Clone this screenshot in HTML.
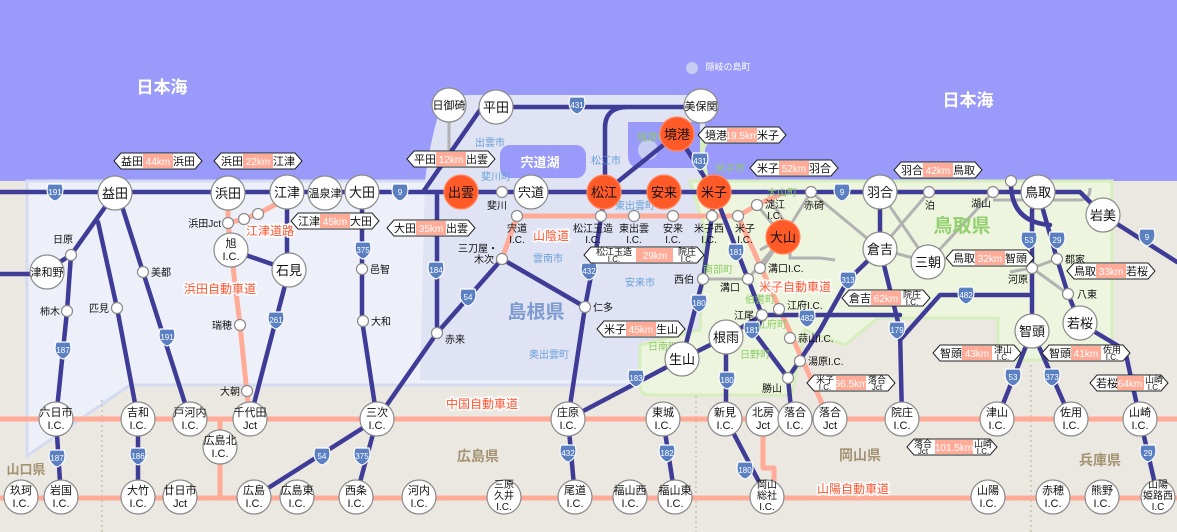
<!DOCTYPE html>
<html><head><meta charset="utf-8"><style>
html,body{margin:0;padding:0;background:#ebe8e2}
svg{display:block;font-family:"Liberation Sans","Noto Sans CJK JP",sans-serif}
.b{fill:none;stroke:#3f3c98;stroke-width:4.5;stroke-linejoin:round;stroke-linecap:round}
.o{fill:none;stroke:#ffab98;stroke-width:5;stroke-linejoin:round}
.g{fill:none;stroke:#b2b2b2;stroke-width:3}
.n{fill:#fff;stroke:#8a8a8a;stroke-width:1.2}
.r{fill:#ff5a28;stroke:#ff8a60;stroke-width:1.2}
.s{fill:#fff;stroke:#8a8a8a;stroke-width:1.2}
.t{font-size:13px;text-anchor:middle;fill:#111}
.u{font-size:11px;text-anchor:middle;fill:#111}
.v{font-size:10px;text-anchor:middle;fill:#111}
.l{font-size:10px;fill:#111}
.lr{font-size:10px;fill:#111;text-anchor:end}
.c{font-size:10px;fill:#6a9fd8;text-anchor:middle}
.cg{font-size:10px;fill:#8ccc66;text-anchor:middle}
.ex{font-size:12px;fill:#ff5530;text-anchor:middle;stroke:#fff;stroke-width:3;paint-order:stroke}
.sg{fill:#fff;stroke:#222;stroke-width:1}
.st{font-size:11px;text-anchor:middle;fill:#111}
.s2{font-size:9px;text-anchor:middle;fill:#111}
.ss{font-size:8px;text-anchor:middle;fill:#111}
.km{font-size:10px;text-anchor:middle;fill:#fff}
.sh{fill:#5b80c2;stroke:#fff;stroke-width:1.2}
.shn{font-size:8px;fill:#fff;text-anchor:middle}
</style></head><body>
<svg width="1177" height="532" viewBox="0 0 1177 532" xmlns="http://www.w3.org/2000/svg">
<defs>
<g id="shd"><path d="M-7,-8 H7 Q9,-2 7,3 Q4,8 0,9 Q-4,8 -7,3 Q-9,-2 -7,-8 Z" class="sh"/></g>
<g id="sgn"><polygon class="sg" points="-44,0 -37,-8 37,-8 44,0 37,8 -37,8"/><rect x="-15" y="-7" width="30" height="14" fill="#ffab98"/></g>
</defs>
<rect x="0" y="0" width="1177" height="532" fill="#ebe8e2"/>
<rect x="0" y="0" width="1177" height="181" fill="#9a9afa"/>
<polygon points="27,181 700,181 700,330 640,340 640,385 130,385 27,456" fill="#edf0f9" stroke="#d5dbf0" stroke-width="3"/>
<path d="M425,181 Q430,140 440,110 Q445,95 470,95 L690,95 Q705,95 705,115 L705,330 L640,340 L640,380 L420,380 Z" fill="#dfe3f3"/>
<path d="M690,181 L1112,181 L1112,360 L998,360 L998,318 L878,318 L845,345 L805,330 L792,395 L650,395 Q640,395 640,385 L640,345 L700,330 L705,230 Z" fill="#eef5de" stroke="#d6edbd" stroke-width="3"/>
<path d="M705,181 L700,150 L710,130" fill="none" stroke="#d6edbd" stroke-width="8"/>
<rect x="500" y="145" width="86" height="33" rx="10" fill="#9a9afa"/>
<path d="M628,122 L700,122 L700,168 L640,168 Q628,168 628,155 Z" fill="#9a9afa"/>
<circle cx="648" cy="150" r="10" fill="#c7ccf3"/>
<text x="540" y="167" font-size="13" font-weight="bold" fill="#fff" text-anchor="middle">宍道湖</text>
<g stroke="#c9c0ae" stroke-width="1.5" stroke-dasharray="2,3">
<line x1="102" y1="400" x2="102" y2="532"/><line x1="696" y1="396" x2="696" y2="532"/><line x1="1031" y1="365" x2="1031" y2="532"/>
</g>
<text x="162" y="93" font-size="17" font-weight="bold" fill="#fff" text-anchor="middle">日本海</text>
<text x="968" y="106" font-size="17" font-weight="bold" fill="#fff" text-anchor="middle">日本海</text>
<circle cx="692" cy="68" r="6" fill="#c7ccf3"/>
<text x="728" y="70" font-size="9" fill="#fff" text-anchor="middle">隠岐の島町</text>
<g class="g">
<path d="M449,106 V150"/>
<path d="M811,192 L880,249 M880,192 L928,262 M929,192 L880,249 M880,249 L928,262 M928,262 L993,192"/>
<path d="M993,200 H1030 M1045,200 H1080 Q1090,200 1090,188"/>
<path d="M1010,272 L1032,268 L1057,259 M1032,268 L1068,294"/>
<path d="M783,237 L757,205 M783,237 L760,250 M783,237 L748,279 M783,237 L811,192 M783,237 L762,268 M703,279 L748,279"/>
<path d="M757,205 L770,200 L790,230 L790,258 L820,258 L835,260"/>
</g>
<g class="o">
<path d="M0,419 H1177 M0,498 H1177"/>
<path d="M220,419 V498"/>
<path d="M763,419 V468 H774 V497"/>
<path d="M228,193 V223 L231,250 L240,325 L247,394 L250,419"/>
<path d="M228,223 L244,219 L258,214 L287,198"/>
<path d="M502,259 L517,216 H738 L757,205 L785,192"/>
<path d="M738,216 L829,419"/>
</g>
<g class="b">
<path d="M0,192 H1080 L1103,215 L1177,262"/>
<path d="M0,274 H47"/>
<path d="M115,193 L71,255 L47,270"/>
<path d="M71,255 L67,311 L56,419 L61,497"/>
<path d="M98,222 L117,308 L138,419 L138,497"/>
<path d="M120,200 L143,272 L190,419"/>
<path d="M289,270 L250,419"/>
<path d="M231,250 L289,270 M287,192 V270"/>
<path d="M362,192 V320 L377,419 L356,497"/>
<path d="M502,259 L437,333 L377,419 L254,497"/>
<path d="M437,192 V333"/>
<path d="M423,192 L480,110"/>
<path d="M496,107 H700 M628,107 Q605,107 605,128 V192"/>
<path d="M605,192 L677,134 L714,192"/>
<path d="M605,192 L596,250 L585,307 L568,419 L575,497 M502,259 L585,307"/>
<path d="M714,192 L712,216 L703,279 L682,359 L568,419"/>
<path d="M714,192 L748,279 L762,315 L756,335 L788,378 L792,419 M762,315 L726,337 L682,359"/>
<path d="M726,337 V419 L767,497"/>
<path d="M880,249 L848,280 L820,330 L788,378"/>
<path d="M762,315 H900 M880,249 L900,330 L902,419 M900,340 L940,295 H1032"/>
<path d="M1038,192 L1032,210 V331 L997,419"/>
<path d="M1038,192 L1057,259 L1068,294 L1080,323 L1125,350 L1140,419 L1158,497"/>
<path d="M1032,331 L1071,419"/>
<path d="M1011,181 Q1010,222 1050,225"/>
<path d="M663,419 L675,497"/>
<path d="M880,192 V249"/>
</g>
<g>
<use href="#shd" x="55" y="192"/><text class="shn" x="55" y="195">191</text>
<use href="#shd" x="400" y="192"/><text class="shn" x="400" y="195">9</text>
<use href="#shd" x="363" y="250"/><text class="shn" x="363" y="253">375</text>
<use href="#shd" x="276" y="320"/><text class="shn" x="276" y="323">261</text>
<use href="#shd" x="167" y="337"/><text class="shn" x="167" y="340">191</text>
<use href="#shd" x="63" y="350"/><text class="shn" x="63" y="353">187</text>
<use href="#shd" x="436" y="270"/><text class="shn" x="436" y="273">184</text>
<use href="#shd" x="468" y="297"/><text class="shn" x="468" y="300">54</text>
<use href="#shd" x="577" y="105"/><text class="shn" x="577" y="108">431</text>
<use href="#shd" x="700" y="161"/><text class="shn" x="700" y="164">431</text>
<use href="#shd" x="589" y="271"/><text class="shn" x="589" y="274">432</text>
<use href="#shd" x="736" y="252"/><text class="shn" x="736" y="255">181</text>
<use href="#shd" x="699" y="303"/><text class="shn" x="699" y="306">180</text>
<use href="#shd" x="752" y="330"/><text class="shn" x="752" y="333">181</text>
<use href="#shd" x="807" y="318"/><text class="shn" x="807" y="321">482</text>
<use href="#shd" x="636" y="378"/><text class="shn" x="636" y="381">183</text>
<use href="#shd" x="727" y="380"/><text class="shn" x="727" y="383">180</text>
<use href="#shd" x="848" y="280"/><text class="shn" x="848" y="283">313</text>
<use href="#shd" x="842" y="192"/><text class="shn" x="842" y="195">9</text>
<use href="#shd" x="966" y="295"/><text class="shn" x="966" y="298">482</text>
<use href="#shd" x="897" y="330"/><text class="shn" x="897" y="333">179</text>
<use href="#shd" x="1029" y="240"/><text class="shn" x="1029" y="243">53</text>
<use href="#shd" x="1057" y="240"/><text class="shn" x="1057" y="243">29</text>
<use href="#shd" x="1147" y="237"/><text class="shn" x="1147" y="240">9</text>
<use href="#shd" x="1013" y="377"/><text class="shn" x="1013" y="380">53</text>
<use href="#shd" x="1052" y="377"/><text class="shn" x="1052" y="380">373</text>
<use href="#shd" x="57" y="458"/><text class="shn" x="57" y="461">187</text>
<use href="#shd" x="138" y="456"/><text class="shn" x="138" y="459">186</text>
<use href="#shd" x="322" y="456"/><text class="shn" x="322" y="459">54</text>
<use href="#shd" x="362" y="456"/><text class="shn" x="362" y="459">375</text>
<use href="#shd" x="568" y="453"/><text class="shn" x="568" y="456">432</text>
<use href="#shd" x="667" y="453"/><text class="shn" x="667" y="456">182</text>
<use href="#shd" x="745" y="470"/><text class="shn" x="745" y="473">180</text>
<use href="#shd" x="1148" y="453"/><text class="shn" x="1148" y="456">29</text>
</g>
<text class="c" x="490" y="146">出雲市</text>
<text class="c" x="496" y="180">斐川町</text>
<text class="c" x="606" y="164">松江市</text>
<text class="cg" x="652" y="141">境港市</text>
<text class="cg" x="730" y="172">米子市</text>
<text class="c" x="635" y="209">東出雲町</text>
<text class="c" x="548" y="262">雲南市</text>
<text class="c" x="640" y="286">安来市</text>
<text class="c" x="549" y="358">奥出雲町</text>
<text class="cg" x="718" y="273">南部町</text>
<text class="cg" x="760" y="303">伯耆町</text>
<text class="cg" x="772" y="328">江府町</text>
<text class="cg" x="663" y="350">日南町</text>
<text class="cg" x="755" y="358">日野町</text>
<text class="cg" x="782" y="196">大山町</text>
<text x="536" y="318" font-size="19" font-weight="bold" fill="#7d9bd0" text-anchor="middle">島根県</text>
<text x="962" y="232" font-size="19" font-weight="bold" fill="#93d070" text-anchor="middle">鳥取県</text>
<text x="478" y="461" font-size="14" font-weight="bold" fill="#a39373" text-anchor="middle">広島県</text>
<text x="860" y="460" font-size="14" font-weight="bold" fill="#a39373" text-anchor="middle">岡山県</text>
<text x="1100" y="465" font-size="14" font-weight="bold" fill="#a39373" text-anchor="middle">兵庫県</text>
<text x="26" y="474" font-size="13" font-weight="bold" fill="#a39373" text-anchor="middle">山口県</text>
<text class="ex" x="270" y="235">江津道路</text>
<text class="ex" x="220" y="293">浜田自動車道</text>
<text class="ex" x="551" y="240">山陰道</text>
<text class="ex" x="795" y="291">米子自動車道</text>
<text class="ex" x="482" y="408">中国自動車道</text>
<text class="ex" x="853" y="493">山陽自動車道</text>
<g class="s">
<circle cx="71" cy="255" r="5.5"/><circle cx="67" cy="311" r="5.5"/><circle cx="117" cy="308" r="5.5"/><circle cx="143" cy="272" r="5.5"/>
<circle cx="228" cy="223" r="5.5"/><circle cx="244" cy="219" r="5.5"/><circle cx="258" cy="214" r="5.5"/><circle cx="240" cy="325" r="5.5"/><circle cx="247" cy="391" r="5.5"/>
<circle cx="362" cy="269" r="5.5"/><circle cx="363" cy="321" r="5.5"/><circle cx="502" cy="192" r="5.5"/><circle cx="517" cy="216" r="5.5"/>
<circle cx="601" cy="216" r="5.5"/><circle cx="634" cy="216" r="5.5"/><circle cx="673" cy="216" r="5.5"/><circle cx="712" cy="216" r="5.5"/><circle cx="738" cy="216" r="5.5"/><circle cx="757" cy="205" r="5.5"/>
<circle cx="502" cy="259" r="5.5"/><circle cx="585" cy="307" r="5.5"/><circle cx="437" cy="333" r="5.5"/>
<circle cx="703" cy="279" r="5.5"/><circle cx="748" cy="279" r="5.5"/><circle cx="760" cy="268" r="5.5"/><circle cx="762" cy="315" r="5.5"/><circle cx="779" cy="309" r="5.5"/>
<circle cx="790" cy="338" r="5.5"/><circle cx="800" cy="361" r="5.5"/><circle cx="788" cy="378" r="5.5"/>
<circle cx="811" cy="192" r="5.5"/><circle cx="929" cy="192" r="5.5"/><circle cx="993" cy="192" r="5.5"/><circle cx="1011" cy="181" r="5.5"/>
<circle cx="1057" cy="259" r="5.5"/><circle cx="1032" cy="268" r="5.5"/><circle cx="1068" cy="294" r="5.5"/>
</g>
<g>
<text class="lr" x="73" y="243">日原</text><text class="lr" x="60" y="315">柿木</text><text class="lr" x="109" y="312">匹見</text><text class="l" x="151" y="276">美都</text>
<text class="lr" x="221" y="227">浜田Jct</text><text class="lr" x="232" y="329">瑞穂</text><text class="lr" x="240" y="395">大朝</text>
<text class="l" x="370" y="273">邑智</text><text class="l" x="371" y="325">大和</text><text class="v" x="497" y="209">斐川</text>
<text class="v" x="517" y="232">宍道</text><text class="v" x="517" y="243">I.C.</text>
<text class="v" x="593" y="232">松江玉造</text><text class="v" x="593" y="243">I.C.</text>
<text class="v" x="634" y="232">東出雲</text><text class="v" x="634" y="243">I.C.</text>
<text class="v" x="673" y="232">安来</text><text class="v" x="673" y="243">I.C.</text>
<text class="v" x="709" y="232">米子西</text><text class="v" x="709" y="243">I.C.</text>
<text class="v" x="745" y="232">米子</text><text class="v" x="745" y="243">I.C.</text>
<text class="v" x="775" y="208">淀江</text><text class="v" x="775" y="219">I.C.</text>
<text class="v" x="478" y="252">三刀屋・</text><text class="v" x="484" y="263">木次</text>
<text class="l" x="593" y="311">仁多</text><text class="l" x="445" y="343">赤来</text>
<text class="lr" x="694" y="283">西伯</text><text class="lr" x="740" y="291">溝口</text><text class="l" x="768" y="272">溝口I.C.</text>
<text class="lr" x="754" y="319">江尾</text><text class="l" x="787" y="309">江府I.C.</text><text class="l" x="798" y="342">蒜山I.C.</text><text class="l" x="808" y="365">湯原I.C.</text><text class="lr" x="782" y="392">勝山</text>
<text class="v" x="814" y="209">赤碕</text><text class="v" x="930" y="209">泊</text><text class="v" x="981" y="207">湖山</text>
<text class="l" x="1065" y="263">郡家</text><text class="lr" x="1028" y="283">河原</text><text class="l" x="1077" y="298">八東</text>
</g>
<g>
<circle class="n" cx="115" cy="193" r="17"/><text class="t" x="115" y="198">益田</text>
<circle class="n" cx="228" cy="193" r="17"/><text class="t" x="228" y="198">浜田</text>
<circle class="n" cx="287" cy="192" r="17"/><text class="t" x="287" y="197">江津</text>
<circle class="n" cx="325" cy="193" r="17"/><text class="u" x="325" y="197">温泉津</text>
<circle class="n" cx="362" cy="192" r="17"/><text class="t" x="362" y="197">大田</text>
<circle class="n" cx="47" cy="272" r="17"/><text class="u" x="47" y="276">津和野</text>
<circle class="n" cx="231" cy="250" r="17"/><text class="u" x="231" y="247">旭</text><text class="u" x="231" y="260">I.C.</text>
<circle class="n" cx="289" cy="270" r="17"/><text class="t" x="289" y="275">石見</text>
<circle class="n" cx="449" cy="105" r="17"/><text class="u" x="449" y="109">日御碕</text>
<circle class="n" cx="496" cy="107" r="17"/><text class="t" x="496" y="112">平田</text>
<circle class="n" cx="701" cy="106" r="17"/><text class="u" x="701" y="110">美保関</text>
<circle class="n" cx="531" cy="192" r="17"/><text class="t" x="531" y="197">宍道</text>
<circle class="r" cx="677" cy="134" r="17"/><text class="t" x="677" y="139">境港</text>
<circle class="r" cx="461" cy="192" r="17"/><text class="t" x="461" y="197">出雲</text>
<circle class="r" cx="604" cy="192" r="17"/><text class="t" x="604" y="197">松江</text>
<circle class="r" cx="664" cy="192" r="17"/><text class="t" x="664" y="197">安来</text>
<circle class="r" cx="714" cy="192" r="17"/><text class="t" x="714" y="197">米子</text>
<circle class="r" cx="783" cy="237" r="17"/><text class="t" x="783" y="242">大山</text>
<circle class="n" cx="726" cy="337" r="17"/><text class="t" x="726" y="342">根雨</text>
<circle class="n" cx="682" cy="359" r="17"/><text class="t" x="682" y="364">生山</text>
<circle class="n" cx="880" cy="192" r="17"/><text class="t" x="880" y="197">羽合</text>
<circle class="n" cx="880" cy="249" r="17"/><text class="t" x="880" y="254">倉吉</text>
<circle class="n" cx="928" cy="262" r="17"/><text class="t" x="928" y="267">三朝</text>
<circle class="n" cx="1038" cy="192" r="17"/><text class="t" x="1038" y="197">鳥取</text>
<circle class="n" cx="1103" cy="215" r="17"/><text class="t" x="1103" y="220">岩美</text>
<circle class="n" cx="1032" cy="331" r="17"/><text class="t" x="1032" y="336">智頭</text>
<circle class="n" cx="1080" cy="323" r="17"/><text class="t" x="1080" y="328">若桜</text>
</g>
<g>
<circle class="n" cx="56" cy="419" r="17"/><text class="u" x="56" y="416">六日市</text><text class="u" x="56" y="429">I.C.</text>
<circle class="n" cx="138" cy="419" r="17"/><text class="u" x="138" y="416">吉和</text><text class="u" x="138" y="429">I.C.</text>
<circle class="n" cx="190" cy="419" r="17"/><text class="u" x="190" y="416">戸河内</text><text class="u" x="190" y="429">I.C.</text>
<circle class="n" cx="250" cy="419" r="17"/><text class="u" x="250" y="416">千代田</text><text class="u" x="250" y="429">Jct</text>
<circle class="n" cx="220" cy="447" r="17"/><text class="u" x="220" y="444">広島北</text><text class="u" x="220" y="457">I.C.</text>
<circle class="n" cx="377" cy="419" r="17"/><text class="u" x="377" y="416">三次</text><text class="u" x="377" y="429">I.C.</text>
<circle class="n" cx="568" cy="419" r="17"/><text class="u" x="568" y="416">庄原</text><text class="u" x="568" y="429">I.C.</text>
<circle class="n" cx="663" cy="419" r="17"/><text class="u" x="663" y="416">東城</text><text class="u" x="663" y="429">I.C.</text>
<circle class="n" cx="725" cy="419" r="17"/><text class="u" x="725" y="416">新見</text><text class="u" x="725" y="429">I.C.</text>
<circle class="n" cx="763" cy="419" r="17"/><text class="u" x="763" y="416">北房</text><text class="u" x="763" y="429">Jct</text>
<circle class="n" cx="795" cy="419" r="17"/><text class="u" x="795" y="416">落合</text><text class="u" x="795" y="429">I.C.</text>
<circle class="n" cx="830" cy="419" r="17"/><text class="u" x="830" y="416">落合</text><text class="u" x="830" y="429">Jct</text>
<circle class="n" cx="902" cy="419" r="17"/><text class="u" x="902" y="416">院庄</text><text class="u" x="902" y="429">I.C.</text>
<circle class="n" cx="997" cy="419" r="17"/><text class="u" x="997" y="416">津山</text><text class="u" x="997" y="429">I.C.</text>
<circle class="n" cx="1071" cy="419" r="17"/><text class="u" x="1071" y="416">佐用</text><text class="u" x="1071" y="429">I.C.</text>
<circle class="n" cx="1140" cy="419" r="17"/><text class="u" x="1140" y="416">山崎</text><text class="u" x="1140" y="429">I.C.</text>
</g>
<g>
<circle class="n" cx="21" cy="497" r="17"/><text class="u" x="21" y="494">玖珂</text><text class="u" x="21" y="507">I.C.</text>
<circle class="n" cx="61" cy="497" r="17"/><text class="u" x="61" y="494">岩国</text><text class="u" x="61" y="507">I.C.</text>
<circle class="n" cx="138" cy="497" r="17"/><text class="u" x="138" y="494">大竹</text><text class="u" x="138" y="507">I.C.</text>
<circle class="n" cx="180" cy="497" r="17"/><text class="u" x="180" y="494">廿日市</text><text class="u" x="180" y="507">Jct</text>
<circle class="n" cx="254" cy="497" r="17"/><text class="u" x="254" y="494">広島</text><text class="u" x="254" y="507">I.C.</text>
<circle class="n" cx="297" cy="497" r="17"/><text class="u" x="297" y="494">広島東</text><text class="u" x="297" y="507">I.C.</text>
<circle class="n" cx="356" cy="497" r="17"/><text class="u" x="356" y="494">西条</text><text class="u" x="356" y="507">I.C.</text>
<circle class="n" cx="419" cy="497" r="17"/><text class="u" x="419" y="494">河内</text><text class="u" x="419" y="507">I.C.</text>
<circle class="n" cx="504" cy="497" r="17"/><text class="v" x="504" y="488">三原</text><text class="v" x="504" y="499">久井</text><text class="v" x="504" y="510">I.C.</text>
<circle class="n" cx="575" cy="497" r="17"/><text class="u" x="575" y="494">尾道</text><text class="u" x="575" y="507">I.C.</text>
<circle class="n" cx="630" cy="497" r="17"/><text class="u" x="630" y="494">福山西</text><text class="u" x="630" y="507">I.C.</text>
<circle class="n" cx="675" cy="497" r="17"/><text class="u" x="675" y="494">福山東</text><text class="u" x="675" y="507">I.C.</text>
<circle class="n" cx="767" cy="497" r="17"/><text class="v" x="767" y="488">岡山</text><text class="v" x="767" y="499">総社</text><text class="v" x="767" y="510">I.C.</text>
<circle class="n" cx="988" cy="497" r="17"/><text class="u" x="988" y="494">山陽</text><text class="u" x="988" y="507">I.C.</text>
<circle class="n" cx="1053" cy="497" r="17"/><text class="u" x="1053" y="494">赤穂</text><text class="u" x="1053" y="507">I.C.</text>
<circle class="n" cx="1102" cy="497" r="17"/><text class="u" x="1102" y="494">熊野</text><text class="u" x="1102" y="507">I.C.</text>
<circle class="n" cx="1158" cy="497" r="17"/><text class="v" x="1158" y="488">山陽</text><text class="v" x="1158" y="499">姫路西</text><text class="v" x="1158" y="510">I.C</text>
</g>
<g transform="translate(158,161)"><use href="#sgn"/><text class="st" x="-26" y="4">益田</text><text class="km" x="0" y="4">44km</text><text class="st" x="26" y="4">浜田</text></g>
<g transform="translate(258,161)"><use href="#sgn"/><text class="st" x="-26" y="4">浜田</text><text class="km" x="0" y="4">22km</text><text class="st" x="26" y="4">江津</text></g>
<g transform="translate(335,221)"><use href="#sgn"/><text class="st" x="-26" y="4">江津</text><text class="km" x="0" y="4">45km</text><text class="st" x="26" y="4">大田</text></g>
<g transform="translate(431,228)"><use href="#sgn"/><text class="st" x="-26" y="4">大田</text><text class="km" x="0" y="4">35km</text><text class="st" x="26" y="4">出雲</text></g>
<g transform="translate(451,159)"><use href="#sgn"/><text class="st" x="-26" y="4">平田</text><text class="km" x="0" y="4">12km</text><text class="st" x="26" y="4">出雲</text></g>
<g transform="translate(742,135)"><use href="#sgn"/><text class="st" x="-26" y="4">境港</text><text class="km" x="0" y="4" font-size="9">19.5km</text><text class="st" x="26" y="4">米子</text></g>
<g transform="translate(794,168)"><use href="#sgn"/><text class="st" x="-26" y="4">米子</text><text class="km" x="0" y="4">52km</text><text class="st" x="26" y="4">羽合</text></g>
<g transform="translate(938,170)"><use href="#sgn"/><text class="st" x="-26" y="4">羽合</text><text class="km" x="0" y="4">42km</text><text class="st" x="26" y="4">鳥取</text></g>
<g transform="translate(644,255)"><polygon class="sg" points="-60,0 -53,-8 53,-8 60,0 53,8 -53,8"/><rect x="-8" y="-7" width="37" height="14" fill="#ffab98"/><text class="s2" x="-30" y="0">松江玉造</text><text class="ss" x="-30" y="7">I.C.</text><text class="km" x="11" y="4">29km</text><text class="s2" x="43" y="0">院庄</text><text class="ss" x="43" y="7">I.C.</text></g>
<g transform="translate(641,329)"><use href="#sgn"/><text class="st" x="-26" y="4">米子</text><text class="km" x="0" y="4">45km</text><text class="st" x="26" y="4">生山</text></g>
<g transform="translate(990,258)"><use href="#sgn"/><text class="st" x="-26" y="4">鳥取</text><text class="km" x="0" y="4">32km</text><text class="st" x="26" y="4">智頭</text></g>
<g transform="translate(1111,271)"><use href="#sgn"/><text class="st" x="-26" y="4">鳥取</text><text class="km" x="0" y="4">33km</text><text class="st" x="26" y="4">若桜</text></g>
<g transform="translate(886,298)"><use href="#sgn"/><text class="st" x="-26" y="4">倉吉</text><text class="km" x="0" y="4">62km</text><text class="s2" x="26" y="0">院庄</text><text class="ss" x="26" y="7">I.C.</text></g>
<g transform="translate(977,353)"><use href="#sgn"/><text class="st" x="-26" y="4">智頭</text><text class="km" x="0" y="4">43km</text><text class="s2" x="26" y="0">津山</text><text class="ss" x="26" y="7">I.C.</text></g>
<g transform="translate(1086,353)"><use href="#sgn"/><text class="st" x="-26" y="4">智頭</text><text class="km" x="0" y="4">41km</text><text class="s2" x="26" y="0">佐用</text><text class="ss" x="26" y="7">I.C.</text></g>
<g transform="translate(851,383)"><use href="#sgn"/><text class="s2" x="-26" y="0">米子</text><text class="ss" x="-26" y="7">I.C.</text><text class="km" x="0" y="4" font-size="9">66.5km</text><text class="s2" x="26" y="0">落合</text><text class="ss" x="26" y="7">Jct</text></g>
<g transform="translate(1129,383)"><polygon class="sg" points="-39,0 -32,-8 32,-8 39,0 32,8 -32,8"/><rect x="-12" y="-7" width="27" height="14" fill="#ffab98"/><text class="st" x="-22" y="4">若桜</text><text class="km" x="1" y="4">64km</text><text class="s2" x="25" y="0">山崎</text><text class="ss" x="25" y="7">I.C.</text></g>
<g transform="translate(952,447)"><polygon class="sg" points="-45,0 -38,-8 38,-8 45,0 38,8 -38,8"/><rect x="-17" y="-7" width="38" height="14" fill="#ffab98"/><text class="s2" x="-29" y="0">落合</text><text class="ss" x="-29" y="7">Jct</text><text class="km" x="2" y="4" font-size="9">101.5km</text><text class="s2" x="31" y="0">山崎</text><text class="ss" x="31" y="7">I.C.</text></g>
</svg>
</body></html>
